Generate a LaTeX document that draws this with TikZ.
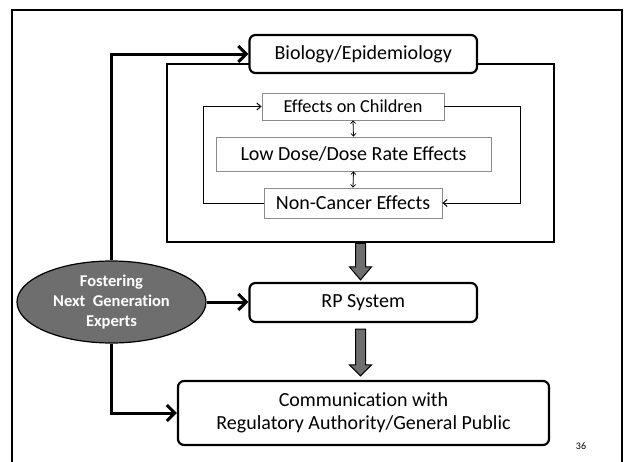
\documentclass[tikz,border=0pt]{standalone}
\usepackage{fontspec}
\setmainfont{Carlito}[Ligatures=NoCommon]
\usetikzlibrary{arrows.meta,calc,shapes.geometric}
\definecolor{blockgray}{RGB}{110,110,110}
\definecolor{thingray}{RGB}{140,140,140}

\begin{document}
\begin{tikzpicture}[x=1pt,y=-1pt,
  mainbox/.style={draw, line width=2.2pt, rounded corners=6pt, fill=white,
    inner sep=0pt, align=center, font=\fontsize{20}{23}\selectfont},
  topicbox/.style={draw=thingray, line width=0.9pt, fill=white, inner sep=0pt,
    font=\fontsize{20}{23}\selectfont},
  framebox/.style={draw, line width=2.6pt, inner sep=0pt},
  feed/.style={line width=3pt, -{Straight Barb[length=8pt,width=16pt]}},
  loopline/.style={line width=1pt, -{Straight Barb[length=4pt,width=7pt]}},
  link/.style={line width=0.8pt,
    {Straight Barb[length=2.5pt,width=5pt]}-{Straight Barb[length=2.5pt,width=5pt]}},
  blockarrow/.style={draw=black, fill=blockgray, line width=1pt, line join=miter},
]
\useasboundingbox (0,0) rectangle (624,461);

% page frame (open at the bottom)
\draw[line width=2pt] (12,475) -- (12,10) -- (622,10) -- (622,475);

% research area frame and its title box
\node[framebox, minimum width=387pt, minimum height=178pt] (frame) at (360.5,153) {};
\node[mainbox, minimum width=227.5pt, minimum height=38pt] (bio) at (363.25,54) {Biology/Epidemiology};

% topics inside the frame
\node[topicbox, minimum width=182pt, minimum height=27pt, font=\fontsize{18.3}{22}\selectfont] (child) at (353,106.5) {Effects on Children};
\node[topicbox, minimum width=275pt, minimum height=34pt] (low) at (353.5,154) {Low Dose/Dose Rate Effects};
\node[topicbox, minimum width=178pt, minimum height=30pt] (nonc) at (353,203) {Non-Cancer Effects};

\draw[link] (child.south) -- (low.north);
\draw[link] (low.south) -- (nonc.north);
\draw[loopline] (nonc.west) -- ++(-60,0) |- (child.west);
\draw[loopline] (child.east) -- ++(76,0) |- (nonc.east);

% lower boxes
\node[mainbox, minimum width=227.5pt, minimum height=39pt] (rp) at (363.25,302.5) {RP System};
\node[mainbox, minimum width=371pt, minimum height=64pt] (comm) at (363.5,413) {Communication with\\Regulatory Authority/General Public};

% block arrows
\coordinate (tipA) at ($(frame.south |- rp.north)+(0,-2)$);
\draw[blockarrow] ($(frame.south)+(-5,0)$) -- ($(tipA)+(-5,-13)$) -- ($(tipA)+(-11,-13)$)
  -- (tipA) -- ($(tipA)+(11,-13)$) -- ($(tipA)+(5,-13)$) -- ($(frame.south)+(5,0)$) -- cycle;
\coordinate (tailB) at ($(frame.south |- rp.south)+(0,6)$);
\coordinate (tipB) at ($(frame.south |- comm.north)+(0,-4)$);
\draw[blockarrow] ($(tailB)+(-5,0)$) -- ($(tipB)+(-5,-11)$) -- ($(tipB)+(-11,-11)$)
  -- (tipB) -- ($(tipB)+(11,-11)$) -- ($(tipB)+(5,-11)$) -- ($(tailB)+(5,0)$) -- cycle;

% fostering ellipse and its feeds
\node[ellipse, draw, line width=1.2pt, fill=blockgray, minimum width=189pt, minimum height=82pt,
  inner sep=0pt, text=white, align=center, font=\bfseries\fontsize{16.5}{20}\selectfont]
  (fost) at (111.5,302) {Fostering\\Next\ \ Generation\\Experts};
\draw[feed] (fost.north) |- (bio.west);
\draw[feed] (fost.east) -- (fost.east -| rp.west);
\draw[feed] (fost.south) |- (comm.west);

% page number
\node[font=\fontsize{10}{12}\selectfont] (pagenum) at (581,446) {36};
\end{tikzpicture}
\end{document}
